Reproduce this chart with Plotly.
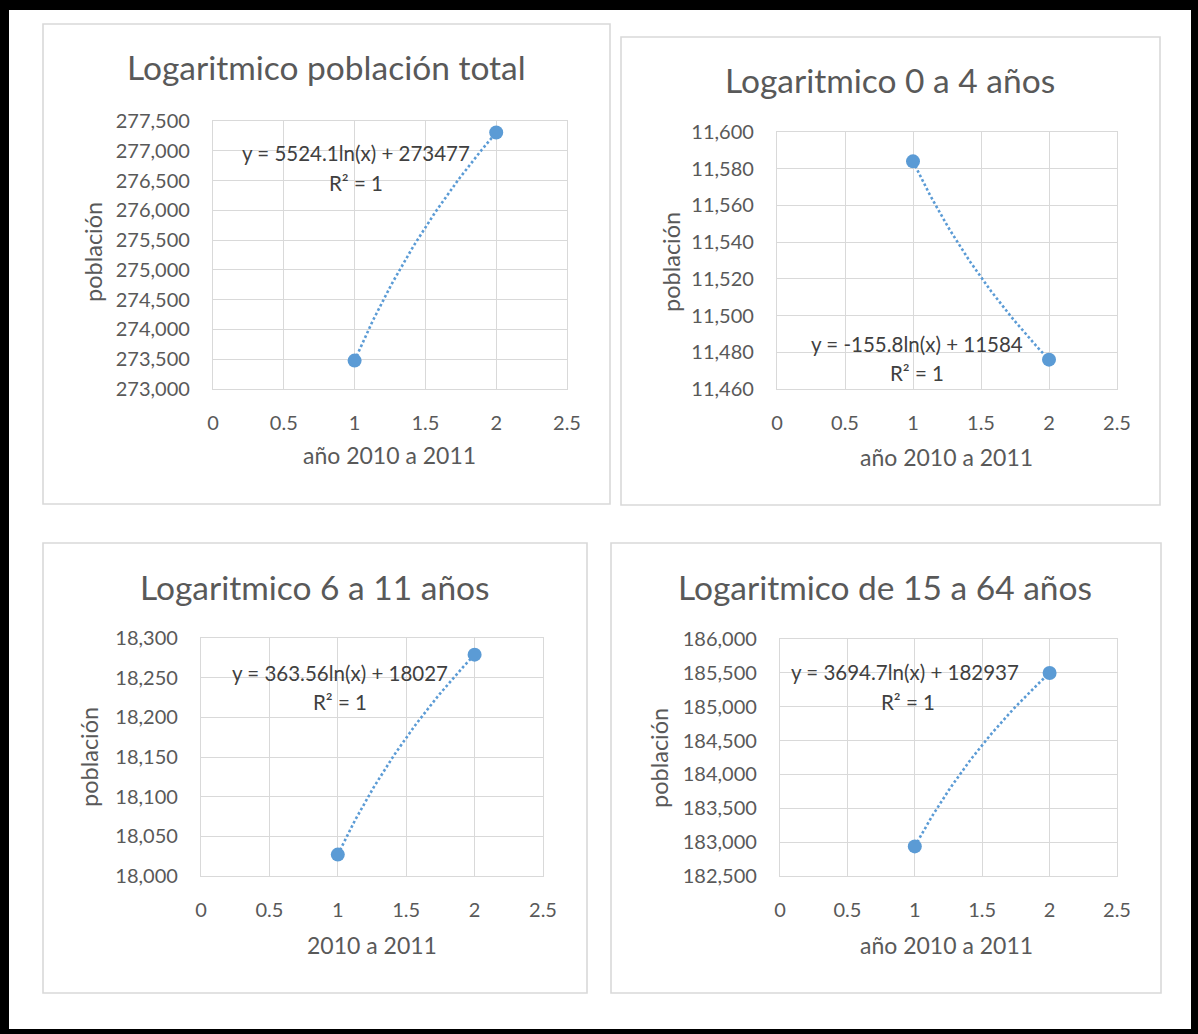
import numpy as np
import plotly.graph_objects as go

W, H = 1198, 1034

# Periods on the x axis (1 = 2010, 2 = 2011)
periodos = [1, 2]

# Population by group
poblacion_total = [273477, 277306]
poblacion_0_4 = [11584, 11476]
poblacion_6_11 = [18027, 18279]
poblacion_15_64 = [182937, 185498]

titulos = [
    "Logaritmico población total",
    "Logaritmico 0 a 4 años",
    "Logaritmico 6 a 11 años",
    "Logaritmico de 15 a 64 años",
]
titulos_x = ["año 2010 a 2011", "año 2010 a 2011", "2010 a 2011", "año 2010 a 2011"]
titulo_y = "población"

# Logarithmic trendline coefficients: y = a*ln(x) + b
coef_a = [5524.1, -155.8, 363.56, 3694.7]
coef_b = [273477, 11584, 18027, 182937]
ecuaciones = [
    "y = 5524.1ln(x) + 273477",
    "y = -155.8ln(x) + 11584",
    "y = 363.56ln(x) + 18027",
    "y = 3694.7ln(x) + 182937",
]
r2_texto = "R² = 1"

# y axis ranges and steps
rangos_y = [(273000, 277500, 500), (11460, 11600, 20), (18000, 18300, 50), (182500, 186000, 500)]
x_ticks = [0, 0.5, 1, 1.5, 2, 2.5]
x_tick_labels = ["0", "0.5", "1", "1.5", "2", "2.5"]

series = [poblacion_total, poblacion_0_4, poblacion_6_11, poblacion_15_64]

# Pixel layout of each chart panel
paneles = [
    dict(box=(43, 24, 610, 504), plot=(213, 567, 121, 389), title=(326, 67), xt=(389, 455), yt=(93, 252), eq=(356, 153), r2=(356, 183)),
    dict(box=(621, 37, 1160, 505), plot=(777, 1117, 132, 389), title=(890, 80), xt=(946, 457), yt=(671, 262), eq=(917, 344), r2=(917, 373)),
    dict(box=(43, 543, 587, 993), plot=(201, 543, 638, 876), title=(315, 587), xt=(372, 945), yt=(89, 757), eq=(340, 673), r2=(340, 702)),
    dict(box=(611, 543, 1161, 993), plot=(780, 1117, 639, 876), title=(885, 587), xt=(947, 945), yt=(659, 758), eq=(905, 672), r2=(908, 702)),
]

FONT = "Lato"
GRIS = "#595959"
GRID = "#d9d9d9"
AZUL = "#5b9bd5"


def px(x):
    return x / W


def py(y):
    return 1 - y / H


fig = go.Figure()
shapes = []
annotations = []
layout_axes = {}

for i, (p, ys) in enumerate(zip(paneles, series)):
    n = "" if i == 0 else str(i + 1)
    xa, ya = "x" + n, "y" + n

    # trendline from its coefficients
    xs = np.linspace(1, 2, 60)
    fig.add_trace(go.Scatter(
        x=xs, y=coef_a[i] * np.log(xs) + coef_b[i], mode="lines",
        line=dict(color=AZUL, width=2.6, dash="2.6px,2.4px"),
        xaxis=xa, yaxis=ya, showlegend=False, hoverinfo="skip",
    ))
    # data points
    fig.add_trace(go.Scatter(
        x=periodos, y=ys, mode="markers",
        marker=dict(color=AZUL, size=14),
        xaxis=xa, yaxis=ya, showlegend=False,
    ))

    x0, x1, ytop, ybot = p["plot"]
    y0r, y1r, dy = rangos_y[i]
    common = dict(
        showgrid=True, gridcolor=GRID, gridwidth=1.3, zeroline=False,
        showline=True, linecolor=GRID, linewidth=1.3, mirror=True,
        ticks="outside", tickcolor="rgba(0,0,0,0)",
        tickfont=dict(family=FONT, size=20, color=GRIS),
        fixedrange=True, automargin=False,
    )
    layout_axes["xaxis" + n] = dict(
        common, domain=[px(x0), px(x1)], range=[0, 2.5], anchor=ya,
        tickvals=x_ticks, ticktext=x_tick_labels, ticklen=16,
    )
    layout_axes["yaxis" + n] = dict(
        common, domain=[py(ybot), py(ytop)], range=[y0r, y1r], anchor=xa,
        dtick=dy, tick0=y0r, tickformat=",", ticklen=18,
    )

    bx0, by0, bx1, by1 = p["box"]
    shapes.append(dict(type="rect", xref="paper", yref="paper",
                       x0=px(bx0), x1=px(bx1), y0=py(by1), y1=py(by0),
                       line=dict(color=GRID, width=1.6), layer="below"))

    def ann(pos, text, size, color=GRIS, angle=0):
        annotations.append(dict(
            xref="paper", yref="paper", x=px(pos[0]), y=py(pos[1]),
            xanchor="center", yanchor="middle", text=text, showarrow=False,
            textangle=angle, font=dict(family=FONT, size=size, color=color),
        ))

    ann(p["title"], titulos[i], 33.5)
    ann(p["xt"], titulos_x[i], 23)
    ann(p["yt"], titulo_y, 23.5, angle=-90)
    ann(p["eq"], ecuaciones[i], 20.5, color="#404040")
    ann(p["r2"], r2_texto, 20.5, color="#404040")

# black frame around the whole sheet
for (a, b, c, d) in [(0, 0, W, 10), (0, 0, 9, H), (1191, 0, W, H), (0, 1029, W, H)]:
    shapes.append(dict(type="rect", xref="paper", yref="paper",
                       x0=px(a), x1=px(c), y0=py(d), y1=py(b),
                       fillcolor="black", line=dict(width=0), layer="above"))

fig.update_layout(
    width=W, height=H,
    margin=dict(l=0, r=0, t=0, b=0, pad=0, autoexpand=False),
    paper_bgcolor="white", plot_bgcolor="white",
    shapes=shapes, annotations=annotations, **layout_axes,
)

fig.write_html("out.html", config={"displayModeBar": False})
